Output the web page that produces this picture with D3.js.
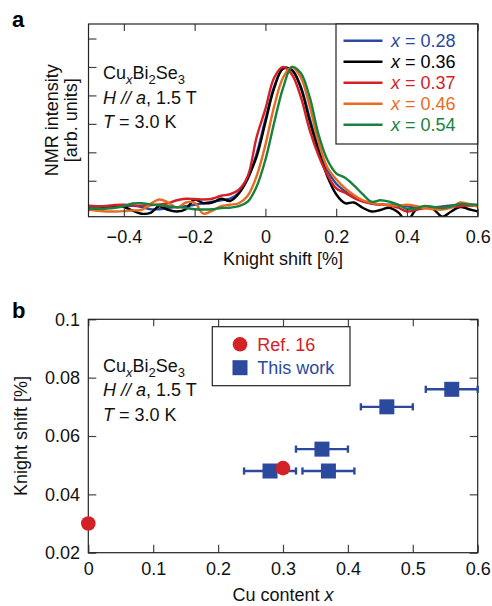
<!DOCTYPE html>
<html>
<head>
<meta charset="utf-8">
<script src="https://cdn.jsdelivr.net/npm/d3@7"></script>
<style>
	body { margin: 0; background: #fff; }
	svg { display: block; font-family: "Liberation Sans", Arial, Helvetica, sans-serif; }
	.tick line { stroke: #444; stroke-width: 1.2; }
	.tick text { font-size: 18px; fill: #111; }
	.label { font-size: 18px; fill: #111; }
</style>
</head>
<body>
<script>
// panel a: NMR spectra (shift grid shared by all five spectra)
var shifts = [-0.5,-0.475,-0.45,-0.425,-0.4,-0.375,-0.35,-0.325,-0.3,-0.275,-0.25,-0.225,-0.2,-0.175,-0.15,-0.125,
	-0.1,-0.075,-0.05,-0.025,0,0.025,0.05,0.075,0.1,0.125,0.15,0.175,0.2,0.225,0.25,
	0.275,0.3,0.325,0.35,0.375,0.4,0.425,0.45,0.475,0.5,0.525,0.55,0.575,0.6];

var nmr028 = [0.058,0.06,0.065,0.068,0.07,0.072,0.065,0.05,0.05,0.058,0.064,0.07,0.08,0.09,0.10,0.11,
	0.12,0.16,0.25,0.42,0.65,0.87,0.99,0.98,0.87,0.66,0.46,0.31,0.22,0.17,0.13,
	0.105,0.088,0.082,0.08,0.075,0.069,0.062,0.058,0.062,0.069,0.075,0.08,0.077,0.073];
var nmr036 = [0.045,0.05,0.058,0.07,0.065,0.04,0.02,0.025,0.07,0.045,0.035,0.05,0.115,0.09,0.095,0.12,
	0.105,0.155,0.26,0.40,0.63,0.86,0.99,0.98,0.86,0.64,0.44,0.27,0.15,0.09,0.095,
	0.06,0.035,0.045,0.06,0.03,-0.03,0.045,0.069,0.05,0.0,0.035,0.065,0.05,0.035];
var nmr037 = [0.073,0.07,0.072,0.078,0.08,0.076,0.074,0.076,0.082,0.09,0.11,0.12,0.118,0.115,0.12,0.14,
	0.15,0.18,0.27,0.53,0.72,0.93,1.0,0.95,0.8,0.58,0.41,0.28,0.19,0.16,0.125,
	0.10,0.088,0.08,0.076,0.06,0.035,0.045,0.058,0.06,0.062,0.065,0.07,0.074,0.076];
var nmr046 = [0.047,0.04,0.035,0.035,0.037,0.042,0.045,0.085,0.115,0.095,0.06,0.095,0.092,0.02,0.04,0.07,
	0.08,0.09,0.14,0.27,0.48,0.74,0.93,1.0,0.93,0.74,0.50,0.33,0.25,0.19,0.145,
	0.11,0.092,0.082,0.076,0.075,0.08,0.072,0.058,0.05,0.047,0.06,0.095,0.085,0.068];
var nmr054 = [0.053,0.053,0.055,0.06,0.07,0.088,0.09,0.082,0.076,0.07,0.064,0.058,0.05,0.048,0.05,0.058,
	0.06,0.07,0.10,0.20,0.38,0.63,0.86,1.0,0.96,0.80,0.55,0.38,0.29,0.26,0.21,
	0.15,0.10,0.11,0.10,0.08,0.052,0.055,0.072,0.065,0.058,0.07,0.085,0.082,0.08];

var seriesNames = ["0.28", "0.36", "0.37", "0.46", "0.54"];
var seriesColors = ["#2b4a9e", "#000000", "#d42027", "#ea6b1f", "#17813d"];

var shiftTicks = [-0.4, -0.2, 0, 0.2, 0.4, 0.6];
var shiftTickLabels = ["\u22120.4", "\u22120.2", "0", "0.2", "0.4", "0.6"];
var intensityTicks = [0.24, 0.43, 0.62, 0.81, 1.0, 1.19];

// panel b: Knight shift vs Cu content
var refX = [0, 0.3];
var refY = [0.03, 0.049];
var workX = [0.28, 0.36, 0.37, 0.46, 0.56];
var workY = [0.048, 0.0555, 0.048, 0.07, 0.076];
var workXLow = [0.24, 0.32, 0.33, 0.42, 0.52];
var workXHigh = [0.32, 0.40, 0.41, 0.50, 0.60];

var cuTicks = [0, 0.1, 0.2, 0.3, 0.4, 0.5, 0.6];
var cuTickLabels = ["0", "0.1", "0.2", "0.3", "0.4", "0.5", "0.6"];
var ksTicks = [0.02, 0.04, 0.06, 0.08, 0.1];
var ksTickLabels = ["0.02", "0.04", "0.06", "0.08", "0.1"];

var blue = "#2b4a9e", red = "#d42027";

var svg = d3.select("body").append("svg").attr("width", 492).attr("height", 606);
svg.append("rect").attr("width", 492).attr("height", 606).attr("fill", "#fff");

function frame(g, box) {
	g.append("rect").attr("x", box.left).attr("y", box.top)
		.attr("width", box.right - box.left).attr("height", box.bottom - box.top)
		.attr("fill", "none").attr("stroke", "#222").attr("stroke-width", 1.2);
}

function sample(g, x, y) {
	// Cu_xBi_2Se_3 / H // a, 1.5 T / T = 3.0 K
	var t1 = g.append("text").attr("class", "label").attr("x", x).attr("y", y);
	t1.append("tspan").text("Cu");
	t1.append("tspan").attr("font-size", 13).attr("font-style", "italic").attr("dy", 5).text("x");
	t1.append("tspan").attr("dy", -5).text("Bi");
	t1.append("tspan").attr("font-size", 13).attr("dy", 5).text("2");
	t1.append("tspan").attr("dy", -5).text("Se");
	t1.append("tspan").attr("font-size", 13).attr("dy", 5).text("3");
	var t2 = g.append("text").attr("class", "label").attr("x", x).attr("y", y + 24.5);
	t2.append("tspan").attr("font-style", "italic").text("H // a");
	t2.append("tspan").text(", 1.5 T");
	var t3 = g.append("text").attr("class", "label").attr("x", x).attr("y", y + 49);
	t3.append("tspan").attr("font-style", "italic").text("T");
	t3.append("tspan").text(" = 3.0 K");
}

// ---------- panel a ----------
var boxA = {left: 88.5, right: 477.7, top: 24, bottom: 216.7};
var xA = d3.scaleLinear().domain([-0.5, 0.6]).range([boxA.left, boxA.right]);
var yA = d3.scaleLinear().domain([0, 1.287]).range([boxA.bottom, boxA.top]);

var gA = svg.append("g").attr("class", "panel-a");
gA.append("text").attr("x", 12).attr("y", 27).attr("font-size", 22).attr("font-weight", "bold").text("a");

gA.append("clipPath").attr("id", "clipA").append("rect")
	.attr("x", boxA.left).attr("y", boxA.top)
	.attr("width", boxA.right - boxA.left).attr("height", boxA.bottom - boxA.top);

var line = d3.line()
	.x(function(d, i) { return xA(shifts[i]); })
	.y(function(d) { return yA(d); })
	.curve(d3.curveCatmullRom.alpha(0.5));

var spectra = [nmr028, nmr036, nmr037, nmr046, nmr054];
gA.append("g").attr("clip-path", "url(#clipA)")
	.selectAll("path").data(spectra).enter().append("path")
	.attr("d", function(d) { return line(d); })
	.attr("fill", "none")
	.attr("stroke", function(d, i) { return seriesColors[i]; })
	.attr("stroke-width", 2.4)
	.attr("stroke-linejoin", "round");

gA.append("g").attr("transform", "translate(0," + boxA.bottom + ")")
	.call(d3.axisBottom(xA).tickValues(shiftTicks).tickSize(-8).tickPadding(13.5)
		.tickFormat(function(d, i) { return shiftTickLabels[i]; }));
gA.append("g").attr("transform", "translate(0," + boxA.top + ")")
	.call(d3.axisTop(xA).tickValues(shiftTicks).tickSize(-7).tickFormat(""));
gA.append("g").attr("transform", "translate(" + boxA.left + ",0)")
	.call(d3.axisLeft(yA).tickValues(intensityTicks).tickSize(-8).tickFormat(""));
gA.append("g").attr("transform", "translate(" + boxA.right + ",0)")
	.call(d3.axisRight(yA).tickValues(intensityTicks).tickSize(-8).tickFormat(""));
frame(gA, boxA);

gA.append("text").attr("class", "label").attr("text-anchor", "middle")
	.attr("x", (boxA.left + boxA.right) / 2).attr("y", 265).text("Knight shift [%]");
gA.append("text").attr("class", "label").attr("text-anchor", "middle")
	.attr("transform", "translate(58," + (boxA.top + boxA.bottom) / 2 + ") rotate(-90)").text("NMR intensity");
gA.append("text").attr("class", "label").attr("text-anchor", "middle")
	.attr("transform", "translate(77," + (boxA.top + boxA.bottom) / 2 + ") rotate(-90)").text("[arb. units]");

sample(gA, 103, 79);

// legend a
var legA = gA.append("g");
legA.append("rect").attr("x", 336).attr("y", boxA.top).attr("width", boxA.right - 336).attr("height", 120)
	.attr("fill", "#fff").attr("stroke", "#222").attr("stroke-width", 1.2);
seriesNames.forEach(function(name, i) {
	var yy = 40.7 + i * 21;
	legA.append("line").attr("x1", 343.5).attr("x2", 382.5).attr("y1", yy).attr("y2", yy)
		.attr("stroke", seriesColors[i]).attr("stroke-width", 2.6);
	var t = legA.append("text").attr("class", "label").attr("x", 391).attr("y", yy + 6.2)
		.style("fill", seriesColors[i]);
	t.append("tspan").attr("font-style", "italic").text("x");
	t.append("tspan").text(" = " + name);
});

// ---------- panel b ----------
var boxB = {left: 88.3, right: 477.7, top: 319.3, bottom: 552.7};
var xB = d3.scaleLinear().domain([0, 0.6]).range([boxB.left, boxB.right]);
var yB = d3.scaleLinear().domain([0.02, 0.1]).range([boxB.bottom, boxB.top]);

var gB = svg.append("g").attr("class", "panel-b");
gB.append("text").attr("x", 12).attr("y", 318).attr("font-size", 22).attr("font-weight", "bold").text("b");

gB.append("g").attr("transform", "translate(0," + boxB.bottom + ")")
	.call(d3.axisBottom(xB).tickValues(cuTicks).tickSize(-8).tickPadding(9.5)
		.tickFormat(function(d, i) { return cuTickLabels[i]; }));
gB.append("g").attr("transform", "translate(0," + boxB.top + ")")
	.call(d3.axisTop(xB).tickValues(cuTicks).tickSize(-7).tickFormat(""));
gB.append("g").attr("transform", "translate(" + boxB.left + ",0)")
	.call(d3.axisLeft(yB).tickValues(ksTicks).tickSize(-8).tickPadding(8.3)
		.tickFormat(function(d, i) { return ksTickLabels[i]; }));
gB.append("g").attr("transform", "translate(" + boxB.right + ",0)")
	.call(d3.axisRight(yB).tickValues(ksTicks).tickSize(-8).tickFormat(""));
frame(gB, boxB);

gB.append("text").attr("class", "label").attr("text-anchor", "middle")
	.attr("x", (boxB.left + boxB.right) / 2).attr("y", 601)
	.call(function(t) {
		t.append("tspan").text("Cu content ");
		t.append("tspan").attr("font-style", "italic").text("x");
	});
gB.append("text").attr("class", "label").attr("text-anchor", "middle")
	.attr("transform", "translate(27," + (boxB.top + boxB.bottom) / 2 + ") rotate(-90)").text("Knight shift [%]");

sample(gB, 103, 371.5);

// error bars + squares
var work = gB.append("g");
workX.forEach(function(x, i) {
	var yy = yB(workY[i]);
	work.append("line").attr("x1", xB(workXLow[i])).attr("x2", xB(workXHigh[i]))
		.attr("y1", yy).attr("y2", yy).attr("stroke", blue).attr("stroke-width", 2.4);
	[workXLow[i], workXHigh[i]].forEach(function(e) {
		work.append("line").attr("x1", xB(e)).attr("x2", xB(e))
			.attr("y1", yy - 3.6).attr("y2", yy + 3.6).attr("stroke", blue).attr("stroke-width", 2.4);
	});
});
work.selectAll("rect.sq").data(workX).enter().append("rect").attr("class", "sq")
	.attr("x", function(d) { return xB(d) - 7.5; })
	.attr("y", function(d, i) { return yB(workY[i]) - 7.5; })
	.attr("width", 15).attr("height", 15).attr("fill", blue);

gB.selectAll("circle.ref").data(refX).enter().append("circle").attr("class", "ref")
	.attr("cx", function(d) { return xB(d); })
	.attr("cy", function(d, i) { return yB(refY[i]); })
	.attr("r", 7.3).attr("fill", red);

// legend b
var legB = gB.append("g");
legB.append("rect").attr("x", 212.3).attr("y", 326.7).attr("width", 137.7).attr("height", 59)
	.attr("fill", "#fff").attr("stroke", "#222").attr("stroke-width", 1.2);
legB.append("circle").attr("cx", 240).attr("cy", 344.3).attr("r", 7.3).attr("fill", red);
legB.append("rect").attr("x", 232.5).attr("y", 360.2).attr("width", 15).attr("height", 15).attr("fill", blue);
legB.append("text").attr("class", "label").attr("x", 257.3).attr("y", 350.7).style("fill", red).text("Ref. 16");
legB.append("text").attr("class", "label").attr("x", 257.3).attr("y", 374.2).style("fill", blue).text("This work");

gA.selectAll(".domain").remove();
gB.selectAll(".domain").remove();
</script>
</body>
</html>
